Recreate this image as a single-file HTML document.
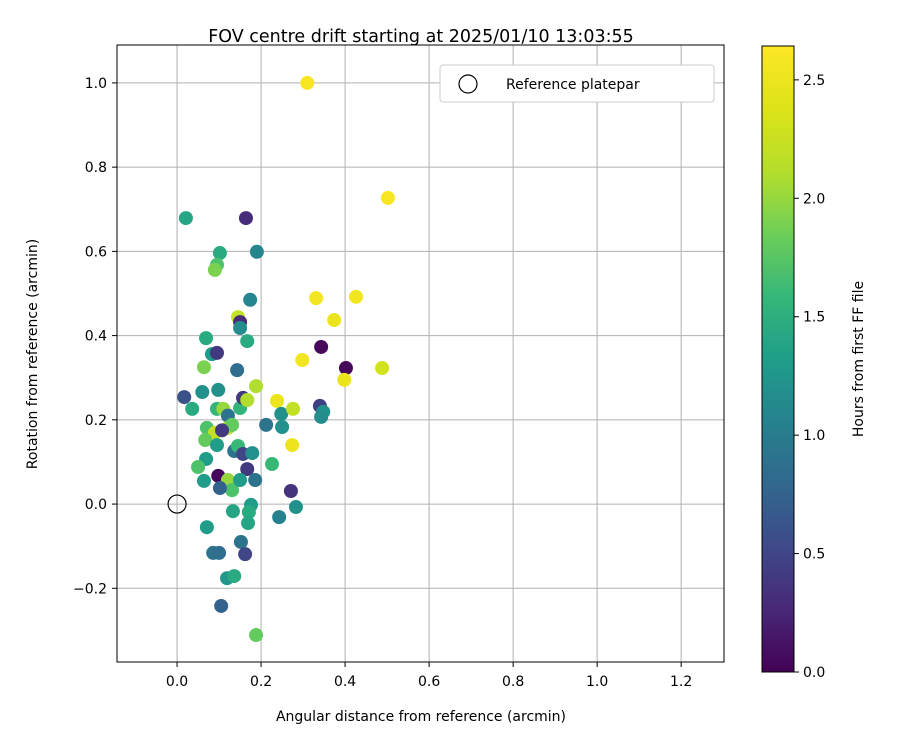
<!DOCTYPE html>
<html><head><meta charset="utf-8"><style>
body{margin:0;background:#fff;}
svg text{font-family:"DejaVu Sans","Liberation Sans",sans-serif;fill:#000;}
</style></head><body>
<svg id="chart" width="900" height="750" xmlns="http://www.w3.org/2000/svg">
<defs>
<linearGradient id="vir" x1="0" y1="1" x2="0" y2="0">
<stop offset="0" stop-color="#440154"/><stop offset="0.1" stop-color="#482878"/><stop offset="0.2" stop-color="#3e4989"/><stop offset="0.3" stop-color="#31688e"/><stop offset="0.4" stop-color="#26828e"/><stop offset="0.5" stop-color="#1f9e89"/><stop offset="0.6" stop-color="#35b779"/><stop offset="0.7" stop-color="#6ece58"/><stop offset="0.8" stop-color="#b5de2b"/><stop offset="0.9" stop-color="#dde318"/><stop offset="1" stop-color="#fde725"/>
</linearGradient>
<clipPath id="clip"><rect x="117" y="45" width="607" height="617"/></clipPath>
</defs>
<g id="grid"></g>
<g id="points" clip-path="url(#clip)"></g>
<rect x="117" y="45" width="607" height="617" fill="none" stroke="#000" stroke-width="1"/>
<g id="ticks"></g>
<text x="421" y="42" font-size="17.5" text-anchor="middle">FOV centre drift starting at 2025/01/10 13:03:55</text>
<text x="421" y="721" font-size="14" text-anchor="middle">Angular distance from reference (arcmin)</text>
<text x="0" y="0" font-size="14" text-anchor="middle" transform="translate(37,354) rotate(-90)">Rotation from reference (arcmin)</text>
<g>
<rect x="440" y="65" width="274" height="37" rx="3" fill="#fff" stroke="#ccc" stroke-width="1"/>
<circle cx="468" cy="84" r="9" fill="none" stroke="#000" stroke-width="1.2"/>
<text x="506" y="89" font-size="14">Reference platepar</text>
</g>
<rect x="762" y="46" width="32" height="626" fill="url(#vir)" stroke="#000" stroke-width="1"/>
<g id="cbticks"></g>
<text x="0" y="0" font-size="14" text-anchor="middle" transform="translate(863,359) rotate(-90)">Hours from first FF file</text>
</svg>
<script>
const xTicks=[0.0,0.2,0.4,0.6,0.8,1.0,1.2];
const yTicks=[-0.2,0.0,0.2,0.4,0.6,0.8,1.0];
const cTicks=[0.0,0.5,1.0,1.5,2.0,2.5];
const xVals=[0.310,0.502,0.021,0.164,0.102,0.190,0.095,0.090,0.331,0.426,0.174,0.374,0.145,0.150,0.150,0.167,0.069,0.343,0.083,0.095,0.298,0.064,0.143,0.402,0.488,0.398,0.188,0.017,0.060,0.036,0.098,0.095,0.110,0.121,0.150,0.157,0.167,0.238,0.248,0.276,0.340,0.348,0.343,0.212,0.250,0.274,0.071,0.090,0.121,0.131,0.107,0.067,0.095,0.136,0.145,0.157,0.179,0.069,0.050,0.226,0.167,0.098,0.121,0.131,0.150,0.186,0.064,0.102,0.271,0.176,0.283,0.133,0.171,0.243,0.169,0.071,0.152,0.086,0.100,0.162,0.119,0.136,0.105,0.188];
const yVals=[1.000,0.727,0.679,0.679,0.596,0.599,0.568,0.556,0.489,0.492,0.485,0.437,0.444,0.432,0.418,0.387,0.394,0.373,0.356,0.359,0.342,0.325,0.318,0.323,0.323,0.295,0.280,0.254,0.266,0.226,0.271,0.226,0.226,0.210,0.228,0.252,0.247,0.245,0.214,0.226,0.233,0.219,0.207,0.188,0.183,0.140,0.181,0.169,0.181,0.188,0.175,0.152,0.140,0.126,0.138,0.119,0.121,0.107,0.088,0.095,0.083,0.067,0.057,0.033,0.057,0.057,0.055,0.038,0.031,-0.002,-0.007,-0.017,-0.019,-0.031,-0.045,-0.055,-0.090,-0.116,-0.116,-0.119,-0.176,-0.171,-0.242,-0.311];
const hours=[2.6,2.6,1.4,0.3,1.45,1.1,1.7,1.9,2.55,2.55,1.1,2.5,2.2,0.3,1.15,1.45,1.45,0.05,1.3,0.4,2.55,1.9,0.85,0.05,2.3,2.5,2.1,0.6,1.2,1.45,1.2,1.55,2.0,0.9,1.55,0.4,2.1,2.5,1.2,2.2,0.45,1.2,1.15,0.9,1.2,2.5,1.7,2.2,2.1,1.8,0.4,1.8,1.3,0.9,1.6,0.5,1.2,1.3,1.7,1.6,0.4,0.05,2.0,1.7,1.3,0.9,1.3,0.75,0.35,1.3,1.2,1.4,1.45,1.05,1.4,1.3,0.9,0.9,0.85,0.5,1.25,1.45,0.75,1.8];
const X0=-0.143,X1=1.302,Y0=-0.375,Y1=1.09,CMAX=2.643;
const px=v=>117+(v-X0)/(X1-X0)*607;
const py=v=>662-(v-Y0)/(Y1-Y0)*617;
const cy=v=>672-v/CMAX*626;
const vir=[[68,1,84],[72,40,120],[62,73,137],[49,104,142],[38,130,142],[31,158,137],[53,183,121],[110,206,88],[181,222,43],[221,227,24],[253,231,37]];
function color(h){let t=Math.max(0,Math.min(1,h/CMAX))*10;let i=Math.min(9,Math.floor(t)),f=t-i;const a=vir[i],b=vir[i+1];return 'rgb('+a.map((c,k)=>Math.round(c+(b[k]-c)*f)).join(',')+')';}
const NS='http://www.w3.org/2000/svg';
function mk(tag,attrs,parent){const e=document.createElementNS(NS,tag);for(const k in attrs)e.setAttribute(k,attrs[k]);parent.appendChild(e);return e;}
const grid=document.getElementById('grid'),ticks=document.getElementById('ticks');
const fmt=v=>(v<0?'\u2212':'')+Math.abs(v).toFixed(1);
xTicks.forEach(v=>{const x=px(v);
const g=mk('line',{x1:x,x2:x,y1:45,y2:662,stroke:'#b0b0b0','stroke-width':1},grid);


mk('line',{x1:x,x2:x,y1:662,y2:667,stroke:'#000'},ticks);
const t=mk('text',{x:x,y:686,'font-size':14,'text-anchor':'middle'},ticks);t.textContent=fmt(v);

});
yTicks.forEach(v=>{const y=py(v);
const g=mk('line',{x1:117,x2:724,y1:y,y2:y,stroke:'#b0b0b0','stroke-width':1},grid);


mk('line',{x1:112,x2:117,y1:y,y2:y,stroke:'#000'},ticks);
const t=mk('text',{x:107,y:y+5,'font-size':14,'text-anchor':'end'},ticks);t.textContent=fmt(v);

});
const cb=document.getElementById('cbticks');
cTicks.forEach(v=>{const y=cy(v);
mk('line',{x1:794,x2:799,y1:y,y2:y,stroke:'#000'},cb);
const t=mk('text',{x:803,y:y+5,'font-size':14},cb);t.textContent=v.toFixed(1);

});
const pts=document.getElementById('points');
xVals.forEach((xv,i)=>{const c=mk('circle',{cx:px(xv),cy:py(yVals[i]),r:7,fill:color(hours[i])},pts);

});
const ref=mk('circle',{cx:px(0),cy:py(0),r:9,fill:'none',stroke:'#000','stroke-width':1.2},pts);


</script>
</body></html>
